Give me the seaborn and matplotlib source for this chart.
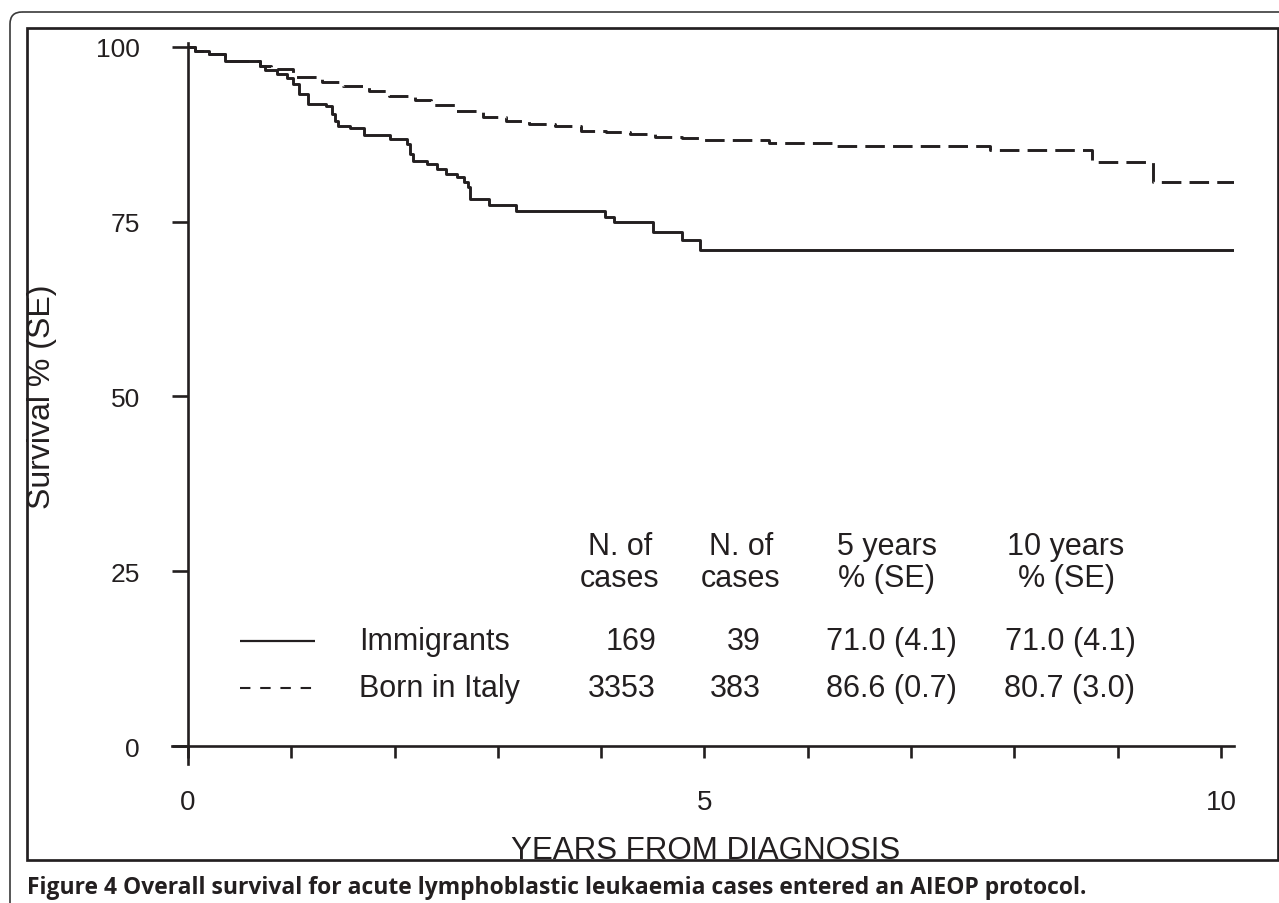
import matplotlib
matplotlib.use("Agg")
import matplotlib.pyplot as plt
from matplotlib.patches import FancyBboxPatch, Rectangle
import seaborn as sns
import pandas as pd

# --- dati (Kaplan-Meier, % sopravvivenza) ---
imm_years = [0, 0.07, 0.20, 0.36, 0.70, 0.745, 0.86, 0.955, 1.02, 1.07, 1.165, 1.34,
             1.39, 1.42, 1.455, 1.57, 1.70, 1.955, 2.12, 2.15, 2.18, 2.31, 2.41, 2.50,
             2.60, 2.67, 2.71, 2.73, 2.91, 3.18, 4.04, 4.12, 4.50, 4.78, 4.96, 10.13]
imm_surv = [100, 99.4, 99.0, 97.9, 97.3, 96.7, 96.1, 95.5, 94.7, 93.2, 91.8, 91.5,
            90.4, 89.4, 88.7, 88.4, 87.4, 86.8, 86.1, 84.7, 83.7, 83.2, 82.5, 81.8,
            81.3, 80.6, 79.9, 78.2, 77.4, 76.5, 75.7, 74.9, 73.5, 72.4, 71.0, 71.0]

ita_years = [0, 0.07, 0.20, 0.36, 0.70, 0.80, 1.02, 1.30, 1.50, 1.75, 1.95, 2.20,
             2.35, 2.58, 2.86, 3.08, 3.30, 3.55, 3.80, 4.05, 4.28, 4.52, 4.78, 5.00,
             5.62, 6.24, 7.76, 8.75, 9.34, 10.13]
ita_surv = [100, 99.4, 99.0, 97.9, 97.3, 96.8, 95.7, 95.0, 94.4, 93.7, 93.0, 92.4,
            91.7, 90.8, 89.9, 89.4, 88.9, 88.7, 88.0, 87.85, 87.5, 87.1, 86.9, 86.6,
            86.2, 85.85, 85.3, 83.5, 80.7, 80.7]

groups = ["Immigrants", "Born in Italy"]
n_cases = ["169", "3353"]
n_events = ["39", "383"]
surv_5y = ["71.0 (4.1)", "86.6 (0.7)"]
surv_10y = ["71.0 (4.1)", "80.7 (3.0)"]

df = pd.concat([
    pd.DataFrame({"years": imm_years, "survival": imm_surv, "group": groups[0]}),
    pd.DataFrame({"years": ita_years, "survival": ita_surv, "group": groups[1]}),
])

sns.set_style("white")
plt.rcParams["font.family"] = ["Liberation Sans", "DejaVu Sans"]

INK = "#231f20"
W, H = 1279, 904
fig = plt.figure(figsize=(W / 100, H / 100), dpi=100)

# assi principali (posizione in pixel convertita a frazioni)
ax = fig.add_axes([172 / W, 1 - 765 / H, 1062 / W, 721 / H])
sns.lineplot(data=df, x="years", y="survival", style="group",
             dashes={groups[0]: "", groups[1]: (6.7, 2.8)},
             color=INK, linewidth=2.1, drawstyle="steps-post",
             estimator=None, sort=False, legend=False, ax=ax)

ax.set_xlim(-0.155, 10.126)
ax.set_ylim(-2.57, 100.53)
ax.spines["left"].set_position(("data", 0))
ax.spines["bottom"].set_position(("data", 0))
for s in ["top", "right"]:
    ax.spines[s].set_visible(False)
for s in ["left", "bottom"]:
    ax.spines[s].set_linewidth(1.9)
    ax.spines[s].set_color(INK)

ax.set_yticks([0, 25, 50, 75, 100])
ax.set_xticks([0, 5, 10])
ax.set_xticks([1, 2, 3, 4, 6, 7, 8, 9], minor=True)
ax.tick_params(axis="y", left=True, direction="out", length=11.5, width=1.9,
               color=INK, labelsize=19, labelcolor=INK, pad=23)
ax.tick_params(axis="x", which="both", bottom=True, direction="out", length=8.6,
               width=1.9, color=INK, labelsize=20, labelcolor=INK, pad=22)

ax.set_xlabel("YEARS FROM DIAGNOSIS", fontsize=22.5, color=INK)
ax.xaxis.label.set_va("baseline")
ax.xaxis.set_label_coords((706 - 172) / 1062, (765 - 859) / 721)
ax.set_ylabel("Survival % (SE)", fontsize=23, color=INK)
ax.yaxis.label.set_va("center")
ax.yaxis.set_label_coords((42 - 172) / 1062, (765 - 397) / 721)

# livello sovrapposto in pixel: cornici, tabella, didascalia
ov = fig.add_axes([0, 0, 1, 1], zorder=2)
ov.set_xlim(0, W)
ov.set_ylim(H, 0)
ov.axis("off")
ov.patch.set_alpha(0)

ov.add_patch(FancyBboxPatch((10, 13), W + 40, H + 40,
                            boxstyle="round,pad=0,rounding_size=12",
                            fill=False, lw=1.2, ec="#3a3a3a", clip_on=False))
ov.add_patch(Rectangle((27, 29), 1251, 832, fill=False, lw=1.95, ec=INK))

tfs = 22
ov.plot([240, 315], [642, 642], color=INK, lw=1.6, solid_capstyle="butt")
ov.plot([240, 315], [689, 689], color=INK, lw=1.5, dashes=(5, 4.7),
        solid_capstyle="butt", dash_capstyle="butt")

headers = [(620, "N. of", "cases"), (741, "N. of", "cases"),
           (887, "5 years", "% (SE)"), (1066, "10 years", "% (SE)")]
for x, l1, l2 in headers:
    ov.text(x, 547, l1, ha="center", va="center", fontsize=tfs, color=INK)
    ov.text(x, 579, l2, ha="center", va="center", fontsize=tfs, color=INK)

for i, y in enumerate([642, 689]):
    ov.text(359, y, groups[i], ha="left", va="center", fontsize=tfs, color=INK)
    ov.text(656, y, n_cases[i], ha="right", va="center", fontsize=tfs, color=INK)
    ov.text(761, y, n_events[i], ha="right", va="center", fontsize=tfs, color=INK)
    ov.text(891, y, surv_5y[i], ha="center", va="center", fontsize=tfs, color=INK)
    ov.text(1070, y, surv_10y[i], ha="center", va="center", fontsize=tfs, color=INK)

ov.text(27, 894, "Figure 4 Overall survival for acute lymphoblastic leukaemia cases "
        "entered an AIEOP protocol.", ha="left", va="baseline", fontsize=16.5,
        fontweight="bold", color=INK, family=["Open Sans", "DejaVu Sans"])

fig.savefig("out.png", dpi=100)
